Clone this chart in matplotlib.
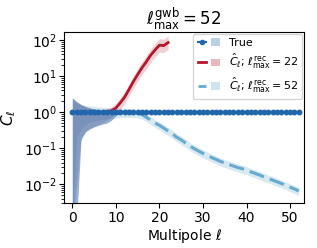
import numpy as np
import matplotlib.pyplot as plt
from matplotlib.legend_handler import HandlerTuple
from matplotlib.patches import Patch

# multipoles
ell = np.arange(0, 53)
true_cl = np.ones(53)

# spread of the true spectrum at low multipoles (ell 0..11)
true_ell = np.arange(0, 12)
true_lo = [0.001, 0.001, 0.17, 0.28, 0.34, 0.39, 0.43, 0.47, 0.5, 0.6, 0.8, 1.0]
true_hi = [2.5, 1.95, 1.62, 1.43, 1.31, 1.23, 1.17, 1.12, 1.09, 1.05, 1.02, 1.0]

# reconstruction with ell_max^rec = 22
red_ell = np.arange(0, 23)
red_cl = [1.0, 1.0, 1.0, 1.0, 1.0, 1.0, 1.0, 1.0, 1.02, 1.1, 1.3, 1.8,
          2.6, 4.2, 7.0, 11.0, 17.0, 25.0, 38.0, 53.0, 72.0, 70.0, 85.0]
red_lo = [0.001, 0.01, 0.2, 0.3, 0.36, 0.4, 0.45, 0.5, 0.6, 0.75, 0.95, 1.2,
          1.7, 2.8, 4.6, 7.2, 11.0, 16.0, 24.0, 34.0, 46.0, 45.0, 55.0]
red_hi = [2.5, 1.95, 1.62, 1.43, 1.31, 1.23, 1.2, 1.2, 1.25, 1.4, 1.75, 2.5,
          3.7, 6.0, 10.0, 16.0, 25.0, 38.0, 58.0, 80.0, 110.0, 105.0, 130.0]

# reconstruction with ell_max^rec = 52
blue_cl = [1.0, 1.0, 1.0, 1.0, 1.0, 1.0, 1.0, 1.0, 1.0, 1.0, 1.0, 1.0, 1.0,
           0.99, 0.97, 0.94, 0.85, 0.72, 0.6, 0.5, 0.43, 0.36, 0.3, 0.25,
           0.2, 0.17, 0.14, 0.115, 0.097, 0.083, 0.072, 0.063, 0.055, 0.049,
           0.043, 0.039, 0.035, 0.032, 0.029, 0.027, 0.025, 0.022, 0.02,
           0.018, 0.016, 0.0145, 0.013, 0.0117, 0.0105, 0.0094, 0.0083,
           0.0074, 0.0065]
blue_frac = [0.999, 0.8, 0.65, 0.55, 0.48, 0.43, 0.4, 0.37, 0.35, 0.33, 0.31,
             0.3, 0.29, 0.28, 0.27, 0.26, 0.25, 0.25, 0.25, 0.25, 0.25, 0.25,
             0.25, 0.25, 0.25, 0.25, 0.25, 0.25, 0.25, 0.25, 0.25, 0.25,
             0.25, 0.25, 0.25, 0.25, 0.25, 0.25, 0.25, 0.25, 0.25, 0.25,
             0.25, 0.25, 0.25, 0.25, 0.25, 0.25, 0.25, 0.25, 0.25, 0.25, 0.25]

c_true = '#2166ac'
c_red = '#b2182b'
c_blue = '#67a9cf'

blue_cl = np.array(blue_cl)
blue_frac = np.array(blue_frac)

fig = plt.figure(figsize=(3.17, 2.48), dpi=100)
ax = fig.add_axes([0.202, 0.181, 0.757, 0.69])

ax.fill_between(ell, blue_cl * (1 - blue_frac), blue_cl * (1 + blue_frac),
                color=c_blue, alpha=0.25, lw=0)
ax.fill_between(red_ell, red_lo, red_hi, color=c_red, alpha=0.2, lw=0)
ax.fill_between(true_ell, true_lo, true_hi, color=c_true, alpha=0.5, lw=0)

ax.plot(red_ell, red_cl, color=c_red, lw=2)
ax.plot(ell, blue_cl, color=c_blue, lw=2.2, ls=(0, (5, 2)))
ax.plot(ell, true_cl, '-o', color=c_true, lw=1.5, ms=3.2)

ax.set_yscale('log')
ax.set_xlim(-1.9, 53.2)
ax.set_ylim(0.003, 167)
ax.set_xticks([0, 10, 20, 30, 40, 50])
ax.tick_params(labelsize=10)
ax.tick_params(axis='x', pad=2.5)
ax.tick_params(axis='y', pad=1.5)
ax.set_xlabel(r'Multipole $\ell$', fontsize=10)
ax.set_ylabel(r'$C_\ell$', fontsize=11)
ax.xaxis.set_label_coords(0.5, -0.14)
ax.yaxis.set_label_coords(-0.19, 0.5)
ax.set_title(r'$\ell_{\rm max}^{\rm gwb} = 52$', fontsize=12, pad=4)

h_true = (plt.Line2D([], [], color=c_true, marker='o', ms=3, lw=1.5),
          Patch(color=c_true, alpha=0.3, lw=0))
h_red = (plt.Line2D([], [], color=c_red, lw=2),
         Patch(color=c_red, alpha=0.3, lw=0))
h_blue = (plt.Line2D([], [], color=c_blue, lw=2, ls=(0, (5, 2))),
          Patch(color=c_blue, alpha=0.3, lw=0))
ax.legend([h_true, h_red, h_blue],
          ['True', r'$\hat{C}_\ell$; $\ell_{\rm max}^{\rm rec}=22$',
           r'$\hat{C}_\ell$; $\ell_{\rm max}^{\rm rec}=52$'],
          handler_map={tuple: HandlerTuple(ndivide=None, pad=0.4)},
          loc='upper right', fontsize=8, handlelength=2.0,
          handletextpad=0.8, labelspacing=0.35, borderaxespad=0.15)

fig.savefig('out.png', dpi=100)
